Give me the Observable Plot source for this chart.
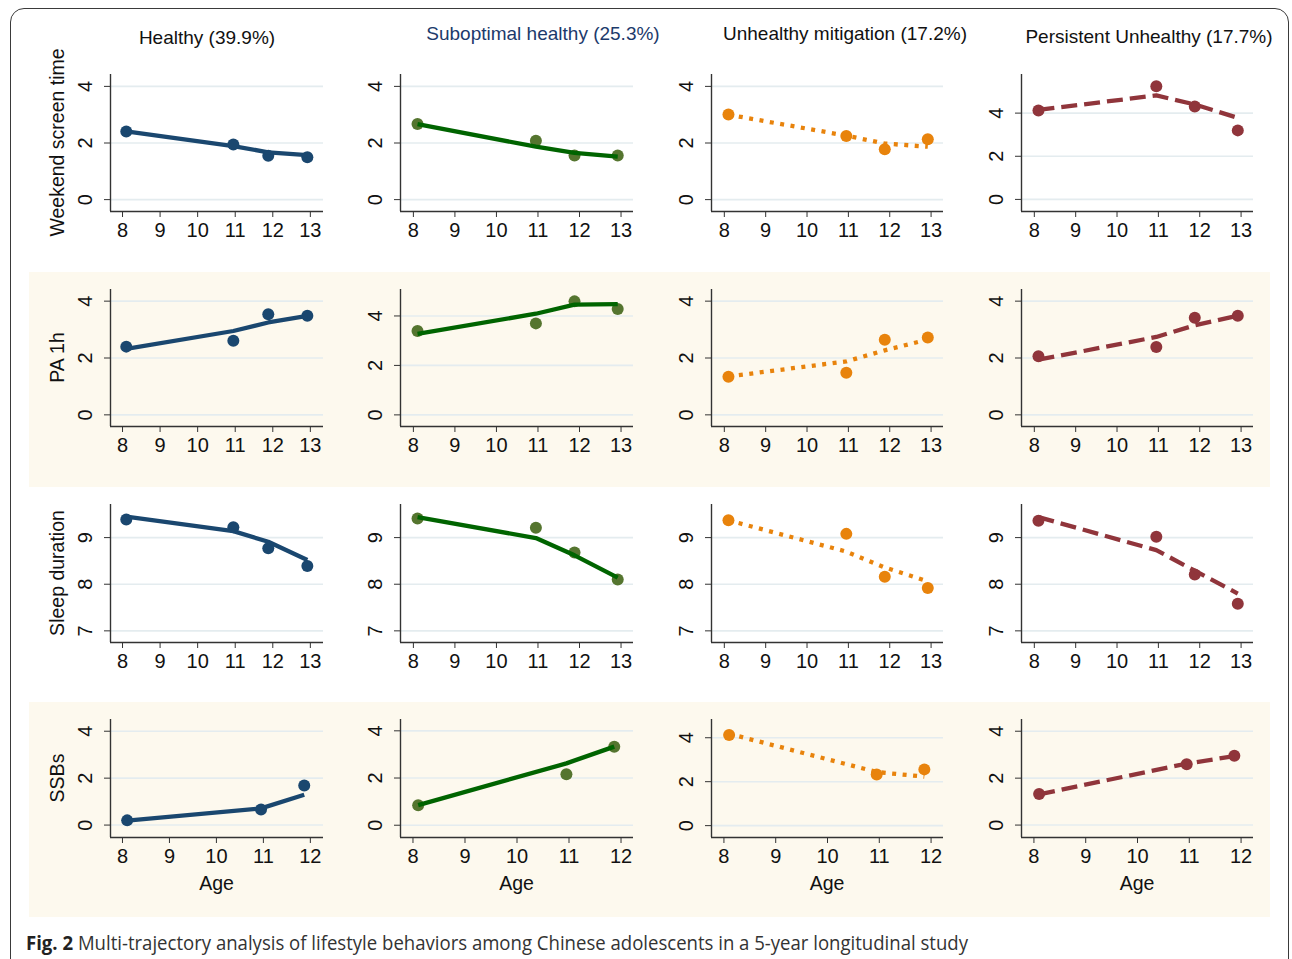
<!DOCTYPE html>
<html><head><meta charset="utf-8">
<script src="https://cdn.jsdelivr.net/npm/d3@7"></script>
<script src="https://cdn.jsdelivr.net/npm/@observablehq/plot@0.6"></script>
<style>
html,body{margin:0;padding:0;background:#fff;}
#root{position:relative;width:1292px;height:959px;overflow:hidden;font-family:"Liberation Sans",Arial,sans-serif;}
#root > *{position:absolute;}
</style></head><body><div id="root"></div>
<script>
// ---------- data ----------
const groups = ["Healthy (39.9%)", "Suboptimal healthy (25.3%)", "Unhealthy mitigation (17.2%)", "Persistent Unhealthy (17.7%)"];
const behaviors = ["Weekend screen time", "PA 1h", "Sleep duration", "SSBs"];
const ages = [8.1, 10.95, 11.88, 12.92];
const agesSSB = [8.1, 10.95, 11.87];
const xTicks = [8, 9, 10, 11, 12, 13];
const xTicksSSB = [8, 9, 10, 11, 12];
const yTicksCount = [0, 2, 4];
const yTicksSleep = [7, 8, 9];
const xLabel = "Age";
const caption = "Multi-trajectory analysis of lifestyle behaviors among Chinese adolescents in a 5-year longitudinal study";

// observed means (dots) and fitted trajectories (lines), one row per group
const screenObs = [[2.41, 1.95, 1.55, 1.50], [2.67, 2.08, 1.56, 1.56], [3.01, 2.25, 1.78, 2.13], [4.12, 5.24, 4.31, 3.20]];
const screenFit = [[2.41, 1.89, 1.67, 1.57], [2.67, 1.87, 1.65, 1.52], [3.00, 2.26, 1.98, 1.87], [4.15, 4.82, 4.40, 3.78]];
const paObs = [[2.40, 2.61, 3.54, 3.49], [3.39, 3.70, 4.59, 4.28], [1.34, 1.48, 2.64, 2.72], [2.06, 2.39, 3.42, 3.49]];
const paFit = [[2.32, 2.95, 3.25, 3.48], [3.28, 4.09, 4.46, 4.48], [1.35, 1.88, 2.27, 2.65], [1.94, 2.74, 3.15, 3.49]];
const sleepObs = [[9.39, 9.22, 8.77, 8.39], [9.41, 9.21, 8.68, 8.10], [9.37, 9.08, 8.16, 7.92], [9.36, 9.02, 8.21, 7.58]];
const sleepFit = [[9.45, 9.14, 8.91, 8.52], [9.44, 8.99, 8.62, 8.14], [9.37, 8.70, 8.36, 8.06], [9.44, 8.73, 8.29, 7.80]];
const ssbObs = [[0.20, 0.66, 1.69], [0.85, 2.16, 3.33], [4.12, 2.33, 2.56], [1.32, 2.59, 2.95]];
const ssbFit = [[0.19, 0.71, 1.29], [0.85, 2.62, 3.33], [4.18, 2.44, 2.23], [1.31, 2.62, 2.94]];

// y-scale ranges per panel (row = behavior, col = group)
const yDomains = [
  [[-0.42, 4.42], [-0.42, 4.42], [-0.42, 4.42], [-0.56, 5.79]],
  [[-0.41, 4.41], [-0.47, 5.07], [-0.41, 4.41], [-0.41, 4.41]],
  [[6.75, 9.71], [6.75, 9.71], [6.75, 9.71], [6.75, 9.71]],
  [[-0.53, 4.5], [-0.52, 4.48], [-0.54, 4.83], [-0.53, 4.5]]
];

// ---------- style ----------
const lineColors = ["#1a476f", "#006400", "#e8830c", "#90353b"];
const dotColors = ["#1a476f", "#55752f", "#e8830c", "#90353b"];
const dashes = [null, null, "4 6.5", "16 7"];
const titleColors = ["#111", "#1c3a6b", "#111", "#111"];
const colX = [[110, 323], [400, 633], [711, 943], [1021, 1253]];
const rowY = [[74, 211], [289, 426], [504, 642], [719, 837]];
const titlePos = [[207, 44], [543, 40], [845, 40], [1149, 43]];
const FONT = "Liberation Sans, Arial, sans-serif";

const root = document.getElementById("root");

// outer rounded frame
const frame = document.createElement("div");
Object.assign(frame.style, {left: "10px", top: "8px", width: "1279px", height: "1000px", border: "1.5px solid #3a3a3a", borderRadius: "14px", boxSizing: "border-box"});
root.appendChild(frame);
// shaded bands for rows 2 and 4
for (const [t, b] of [[272, 487], [702, 917]]) {
  const band = document.createElement("div");
  Object.assign(band.style, {left: "29px", top: t + "px", width: "1241px", height: (b - t) + "px", background: "#fdf9ee"});
  root.appendChild(band);
}

const obsByRow = [screenObs, paObs, sleepObs, ssbObs];
const fitByRow = [screenFit, paFit, sleepFit, ssbFit];
const ML = 50, MR = 20, MT = 8, MB = 40;

for (let r = 0; r < 4; r++) {
  for (let c = 0; c < 4; c++) {
    const [x0, x1] = colX[c], [y0, y1] = rowY[r];
    const isSSB = r === 3;
    const a = isSSB ? agesSSB : ages;
    const xt = isSSB ? xTicksSSB : xTicks;
    const yt = r === 2 ? yTicksSleep : yTicksCount;
    const xDom = isSSB ? (c === 0 ? [7.745, 12.28] : [7.76, 12.24]) : (c === 0 ? [7.68, 13.35] : [7.69, 13.3]);
    const yDom = yDomains[r][c];
    const obs = a.map((age, i) => ({age, v: obsByRow[r][c][i]}));
    const fit = a.map((age, i) => ({age, v: fitByRow[r][c][i]}));
    const plot = Plot.plot({
      width: (x1 - x0) + ML + MR,
      height: (y1 - y0) + MT + MB,
      marginLeft: ML, marginRight: MR, marginTop: MT, marginBottom: MB,
      x: {domain: xDom},
      y: {domain: yDom},
      style: {background: "transparent", fontFamily: FONT, fontSize: "20px", overflow: "visible"},
      marks: [
        Plot.gridY(yt, {stroke: "#e4ecef", strokeOpacity: 1, strokeWidth: 1.6}),
        Plot.ruleX([xDom[0]], {stroke: "#333", strokeWidth: 1.4}),
        Plot.ruleY([yDom[0]], {stroke: "#333", strokeWidth: 1.4}),
        Plot.axisY(yt, {tickRotate: -90, tickSize: 6, tickPadding: 13, label: null, stroke: "#333", fill: "#111", fontSize: 20}),
        Plot.axisX(xt, {tickSize: 6, tickPadding: 5, label: null, stroke: "#333", fill: "#111", fontSize: 20}),
        Plot.dot(obs, {x: "age", y: "v", r: 6, fill: dotColors[c], stroke: "none"}),
        Plot.line(fit, {x: "age", y: "v", stroke: lineColors[c], strokeWidth: 4.3, strokeDasharray: dashes[c], strokeLinecap: "butt", strokeLinejoin: "round"})
      ]
    });
    plot.style.left = (x0 - ML) + "px";
    plot.style.top = (y0 - MT) + "px";
    root.appendChild(plot);
  }
}

// overlay text
const svg = d3.select(root).append("svg").attr("width", 1292).attr("height", 959)
  .style("left", "0px").style("top", "0px").style("pointer-events", "none")
  .style("font-family", FONT);
groups.forEach((g, c) => {
  svg.append("text").attr("x", titlePos[c][0]).attr("y", titlePos[c][1]).attr("text-anchor", "middle")
    .attr("font-size", 19).attr("fill", titleColors[c]).text(g);
  svg.append("text").attr("x", (colX[c][0] + colX[c][1]) / 2).attr("y", 890).attr("text-anchor", "middle")
    .attr("font-size", 19.5).attr("fill", "#111").text(xLabel);
});
behaviors.forEach((b, r) => {
  const cy = (rowY[r][0] + rowY[r][1]) / 2;
  svg.append("text").attr("transform", `translate(64,${cy}) rotate(-90)`).attr("text-anchor", "middle")
    .attr("font-size", 19.5).attr("fill", "#111").text(b);
});
const cap = svg.append("text").attr("x", 26).attr("y", 950).attr("font-size", 19.5)
  .attr("font-family", "Open Sans, sans-serif").attr("fill", "#333")
  .attr("textLength", 942).attr("lengthAdjust", "spacingAndGlyphs");
cap.append("tspan").attr("font-weight", "bold").attr("fill", "#222").text("Fig. 2");
cap.append("tspan").text(" " + caption);
</script></body></html>
